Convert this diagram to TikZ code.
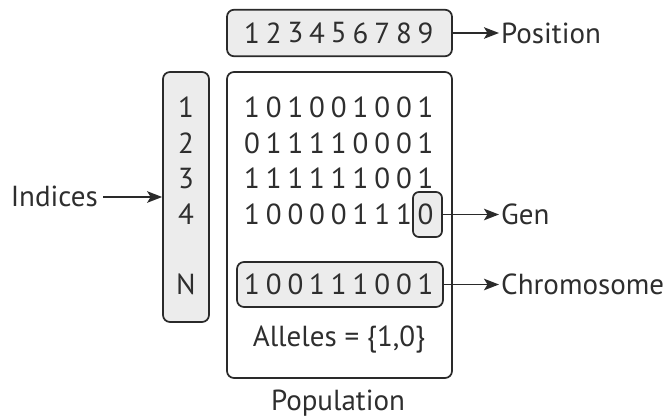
\documentclass[tikz,border=0pt]{standalone}
\usepackage{fontspec}
\setmainfont{PT Sans}
\usetikzlibrary{arrows.meta}
\definecolor{linec}{HTML}{2A2A2A}
\definecolor{textc}{HTML}{2E2E2E}
\definecolor{boxgray}{HTML}{ECECEC}
\begin{document}
\begin{tikzpicture}[x=1pt,y=-1pt,
  box/.style={draw=linec, line width=1.7pt, rounded corners=7pt, fill=boxgray,
    rectangle, inner sep=0pt},
  frame/.style={box, fill=white},
  digit/.style={inner sep=0pt, text=textc, font=\fontsize{29}{29}\selectfont},
  lbl/.style={inner sep=2pt, text=textc, text depth=0pt,
    font=\fontsize{29}{29}\selectfont},
  conn/.style={draw=linec, line width=1.8pt,
    -{Stealth[length=15pt,width=11.5pt,inset=3.5pt]}}
]
\useasboundingbox (0,0) rectangle (671,418);

% frames
\node[box, minimum width=225pt, minimum height=46.5pt] (pos) at (339.5,33) {};
\node[box, minimum width=46pt, minimum height=250pt] (idx) at (186,197) {};
\node[frame, minimum width=225pt, minimum height=306pt] (pop) at (339.5,225) {};
\node[box, minimum width=206pt, minimum height=45pt] (chrom) at (340,284.5) {};
\node[box, minimum width=29pt, minimum height=45pt, rounded corners=6pt] (gen) at (427.5,214.5) {};

% position digits
\foreach \d [count=\j] in {1,2,3,4,5,6,7,8,9}
  \node[digit] (p\j) at ({252+21.7*(\j-1)},33) {\d};

% population rows
\foreach \row [count=\i] in {{1,0,1,0,0,1,0,0,1},{0,1,1,1,1,0,0,0,1},
    {1,1,1,1,1,1,0,0,1},{1,0,0,0,0,1,1,1,0}}
  \foreach \d [count=\j] in \row
    \node[digit] (r\i-\j) at ({252+21.7*(\j-1)},{107.5+35.5*(\i-1)}) {\d};

% chromosome row
\foreach \d [count=\j] in {1,0,0,1,1,1,0,0,1}
  \node[digit] (c\j) at ({252+21.7*(\j-1)},284.5) {\d};

% indices
\foreach \t/\y [count=\k] in {1/107.5,2/143,3/178.5,4/214,N/284.5}
  \node[digit] (i\k) at (186,\y) {\t};

% captions
\node[lbl, anchor=base] (all) at (339,346) {Alleles = \{1,0\}};
\node[lbl, anchor=base] (popl) at (338,410.5) {Population};

% side labels and arrows
\node[lbl, anchor=west] (posl) at (499,33) {Position};
\node[lbl, anchor=east] (indl) at (100,196) {Indices};
\node[lbl, anchor=west] (genl) at (499,214) {Gen};
\node[lbl, anchor=west] (chroml) at (499,284) {Chromosome};

\draw[conn] (pos.east) -- (pos.east -| posl.west);
\draw[conn, shorten <=3pt] (indl.east |- idx.west) -- (idx.west);
\draw[conn] (gen.east) -- (gen.east -| genl.west);
\draw[conn] (chrom.east) -- (chrom.east -| chroml.west);
\end{tikzpicture}
\end{document}
